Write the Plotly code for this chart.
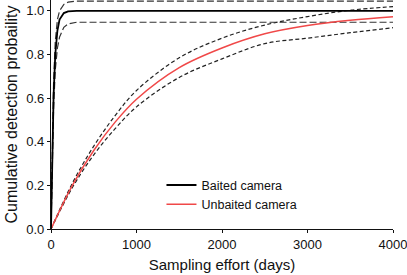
import plotly.graph_objects as go

# Baited camera (days, probability)
baited_days = [0, 10, 20, 30, 50, 75, 100, 150, 200, 300, 4000]
baited_mean = [0, 0.27, 0.47, 0.61, 0.80, 0.91, 0.96, 0.99, 0.998, 1.0, 1.0]
baited_upper = [0, 0.30, 0.52, 0.67, 0.86, 0.96, 1.0, 1.03, 1.04, 1.045, 1.045]
baited_lower = [0, 0.24, 0.42, 0.55, 0.73, 0.83, 0.88, 0.925, 0.94, 0.948, 0.948]

# Unbaited camera
unbaited_days = [0, 250, 500, 750, 1000, 1500, 2000, 2500, 3000, 3500, 4000]
unbaited_mean = [0, 0.20, 0.36, 0.49, 0.595, 0.74, 0.83, 0.895, 0.933, 0.957, 0.973]
unbaited_upper = [0, 0.21, 0.38, 0.52, 0.635, 0.785, 0.875, 0.935, 0.974, 1.003, 1.02]
unbaited_lower = [0, 0.19, 0.34, 0.46, 0.56, 0.695, 0.78, 0.85, 0.875, 0.90, 0.923]

x_ticks = [0, 1000, 2000, 3000, 4000]
y_ticks = [0.0, 0.2, 0.4, 0.6, 0.8, 1.0]

FONT = "Liberation Sans, Arial, Helvetica, sans-serif"

fig = go.Figure()

# CI lines unbaited
for ys in (unbaited_upper, unbaited_lower):
    fig.add_trace(go.Scatter(x=unbaited_days, y=ys, mode="lines", showlegend=False,
                             line=dict(color="#222222", width=1.2, dash="4px,2.5px", shape="spline"),
                             hoverinfo="skip"))
# CI lines baited
for ys in (baited_upper, baited_lower):
    fig.add_trace(go.Scatter(x=baited_days, y=ys, mode="lines", showlegend=False,
                             line=dict(color="#333333", width=1.2, dash="7px,3px"),
                             hoverinfo="skip"))

fig.add_trace(go.Scatter(x=unbaited_days, y=unbaited_mean, mode="lines", name="Unbaited camera",
                         line=dict(color="#f04848", width=1.5, shape="spline")))
fig.add_trace(go.Scatter(x=baited_days, y=baited_mean, mode="lines", name="Baited camera",
                         line=dict(color="#000000", width=1.8)))

fig.update_layout(
    width=407, height=275,
    margin=dict(l=51, r=14, t=0, b=46),
    paper_bgcolor="white", plot_bgcolor="white",
    font=dict(family=FONT, size=13, color="#111111"),
    legend=dict(x=0.323, y=0.256, xanchor="left", yanchor="top",
                traceorder="reversed", font=dict(size=12.5),
                bgcolor="rgba(0,0,0,0)", borderwidth=0, tracegroupgap=0),
)
fig.update_xaxes(range=[0, 4000], tickvals=x_ticks, ticks="outside", ticklen=3,
                 tickcolor="#111", showline=True, linecolor="#111", linewidth=1.2,
                 showgrid=False, zeroline=False, ticklabeloverflow="allow",
                 title=dict(text="Sampling effort (days)", font=dict(size=15), standoff=8))
fig.update_yaxes(range=[0, 1.05], tickvals=y_ticks, tickformat=".1f", ticks="outside",
                 ticklen=3, tickcolor="#111", showline=True, linecolor="#111", linewidth=1.2,
                 showgrid=False, zeroline=False,
                 title=dict(text="Cumulative detection probaility", font=dict(size=16), standoff=4))

fig.write_html("out.html", config={"displayModeBar": False},
               post_script="document.body.style.margin='0';")
